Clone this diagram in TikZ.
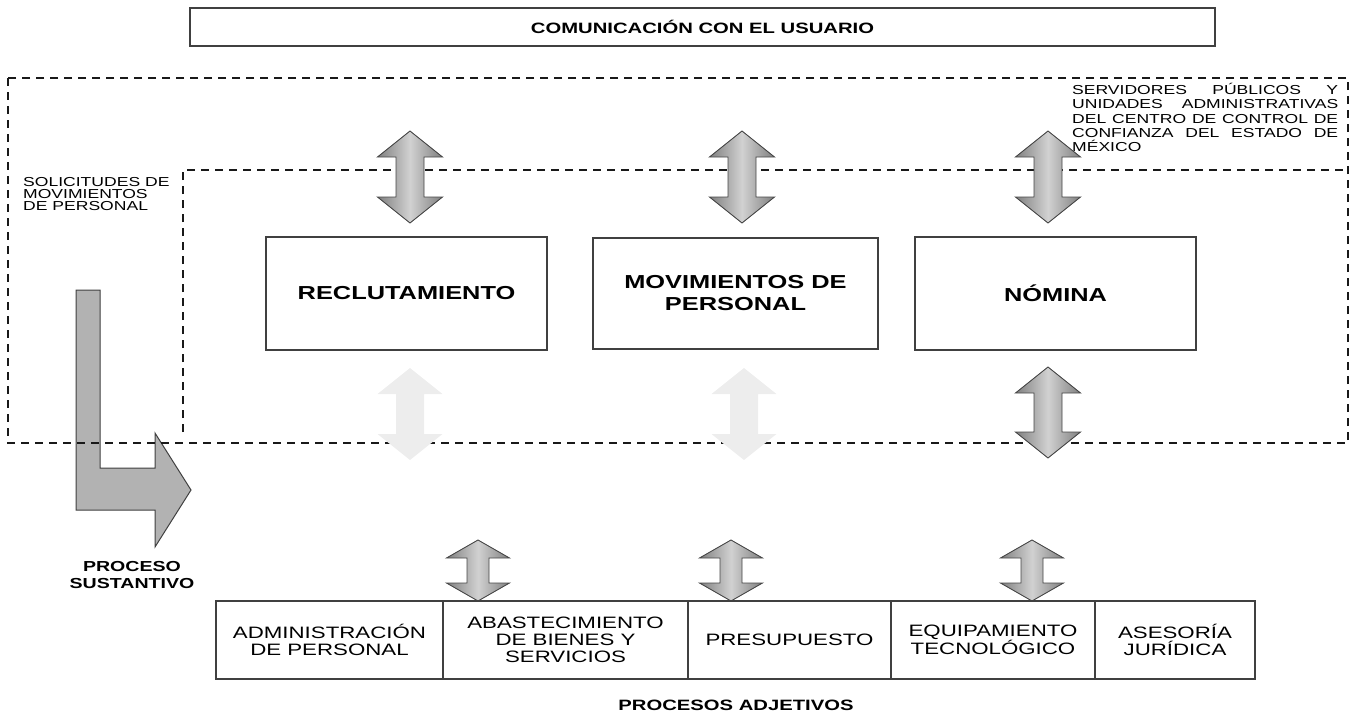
\documentclass[tikz,border=0pt]{standalone}
\usepackage{fontspec}
\setmainfont{Liberation Sans}[FakeStretch=1.35]
\newcommand\DArrow[7]{% style, cx, ytop, ybot, shaft half, head half, head length
  \path[#1] (#2,#3) -- ({#2+#6},{#3+#7}) -- ({#2+#5},{#3+#7}) -- ({#2+#5},{#4-#7})
    -- ({#2+#6},{#4-#7}) -- (#2,#4) -- ({#2-#6},{#4-#7}) -- ({#2-#5},{#4-#7})
    -- ({#2-#5},{#3+#7}) -- ({#2-#6},{#3+#7}) -- cycle;}
\tikzset{
  dashline/.style={line width=2.4pt, dash pattern=on 8pt off 6pt, black!90},
  box/.style={draw=black!75, line width=1.2pt, inner sep=0pt, align=center},
  bigbold/.style={font=\fontsize{18.8}{22}\selectfont\bfseries},
  boxtext/.style={font=\fontsize{16.5}{17}\selectfont},
  smalltext/.style={font=\fontsize{13}{12.3}\selectfont},
  labelbold/.style={font=\fontsize{14.5}{17}\selectfont\bfseries},
  arrowshade/.style={draw=black!72, line width=0.9pt, left color=black!50, right color=black!50, middle color=black!18},
  faintarrow/.style={fill=black!7},
  lshape/.style={draw=black!75, line width=1pt, fill=black!30}
}
\begin{document}
\begin{tikzpicture}[x=1pt,y=-1pt]
\useasboundingbox (0,0) rectangle (1353,713);

% title
\node[box, minimum width=1025pt, minimum height=38pt, font=\fontsize{15}{17}\selectfont\bfseries] (com) at (702.5,27) {COMUNICACIÓN CON EL USUARIO};

% L-shaped arrow (under the dashed line)
\path[lshape] (76,290) -- (100,290) -- (100,468) -- (155,468) -- (155,433) -- (191,490)
  -- (155,547) -- (155,510) -- (76,510) -- cycle;

% dashed regions
\coordinate (oTL) at (8,78);
\coordinate (oBR) at (1348,443);
\coordinate (iBL) at (183,432);
\coordinate (iTL) at (183,170);
\coordinate (iTR) at (1348,170);
\draw[dashline] (oTL) rectangle (oBR);
\draw[dashline] (iBL) -- (iTL) -- (iTR);

% texts in dashed region
\node[anchor=north west, inner sep=0pt, text width=266pt, align=justify, font=\fontsize{13}{14.3}\selectfont] (serv) at (1072,83)
  {SERVIDORES PÚBLICOS Y\linebreak UNIDADES ADMINISTRATIVAS\linebreak DEL CENTRO DE CONTROL DE\linebreak CONFIANZA DEL ESTADO DE\linebreak MÉXICO};
\node[anchor=north west, inner sep=0pt, align=left, smalltext] (sol) at (23,177)
  {SOLICITUDES DE\\MOVIMIENTOS\\DE PERSONAL};

% main boxes
\node[box, bigbold, minimum width=281pt, minimum height=113pt] (recl) at (406.5,293.5) {RECLUTAMIENTO};
\node[box, bigbold, minimum width=285pt, minimum height=111pt] (mov) at (735.5,293.5) {MOVIMIENTOS DE\\PERSONAL};
\node[box, bigbold, minimum width=281pt, minimum height=113pt] (nom) at (1055.5,293.5) {NÓMINA};

% top double arrows
\DArrow{arrowshade}{410}{131}{223}{14}{32.5}{26}
\DArrow{arrowshade}{742}{131}{223}{14}{32.5}{26}
\DArrow{arrowshade}{1048}{131}{223}{14}{32.5}{26}

% lower arrows
\DArrow{faintarrow}{410}{368}{460}{14}{32.5}{26}
\DArrow{faintarrow}{744}{368}{460}{14}{32.5}{26}
\DArrow{arrowshade}{1048}{367}{458}{14}{32.5}{26}

\node[labelbold, align=center] (sust) at (132,574.5) {PROCESO\\SUSTANTIVO};

% bottom arrows
\DArrow{arrowshade}{478}{540}{601}{11}{31.5}{18}
\DArrow{arrowshade}{731}{540}{601}{11}{31.5}{18}
\DArrow{arrowshade}{1032}{540}{601}{11}{31.5}{18}

% bottom boxes
\node[box, boxtext, minimum width=227pt, minimum height=78pt] (adm) at (329.5,640) {ADMINISTRACIÓN\\DE PERSONAL};
\node[box, boxtext, minimum width=245pt, minimum height=78pt] (aba) at (565.5,640) {ABASTECIMIENTO\\DE BIENES Y\\SERVICIOS};
\node[box, boxtext, minimum width=203pt, minimum height=78pt] (pre) at (789.5,640) {PRESUPUESTO};
\node[box, boxtext, minimum width=204pt, minimum height=78pt] (equ) at (993,640) {EQUIPAMIENTO\\TECNOLÓGICO};
\node[box, boxtext, minimum width=160pt, minimum height=78pt] (ase) at (1175,640) {ASESORÍA\\JURÍDICA};

\node[font=\fontsize{15}{17}\selectfont\bfseries] (adj) at (736,705) {PROCESOS ADJETIVOS};
\end{tikzpicture}
\end{document}
